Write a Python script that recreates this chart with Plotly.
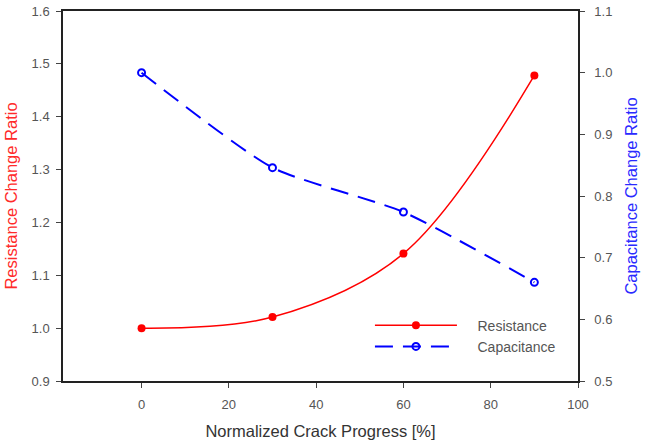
import plotly.graph_objects as go

crack = [0, 30, 60, 90]
resistance = [1.0, 1.021, 1.141, 1.478]
capacitance = [1.0, 0.846, 0.774, 0.66]

x_ticks = [0, 20, 40, 60, 80, 100]
pad = "\u00a0" * 4

fig = go.Figure()
fig.add_trace(go.Scatter(
    x=crack, y=resistance, name=pad + "Resistance", mode="lines+markers",
    line=dict(color="#ff0000", width=1.5, shape="spline", smoothing=1.0),
    marker=dict(color="#ff0000", size=8, symbol="circle"),
    yaxis="y"))
fig.add_trace(go.Scatter(
    x=crack, y=capacitance, name=pad + "Capacitance", mode="lines+markers",
    line=dict(color="#0000ff", width=2, dash="18px,10px", shape="spline", smoothing=0.6),
    marker=dict(color="#0000ff", size=7, symbol="circle-open", line=dict(width=2, color="#0000ff")),
    yaxis="y2"))

fam = "Liberation Sans, Arial, sans-serif"
axfont = dict(family=fam, size=13, color="#555")
fig.update_layout(
    width=645, height=440,
    margin=dict(l=63, r=67, t=11, b=59),
    paper_bgcolor="white", plot_bgcolor="white",
    font=dict(family=fam, size=13, color="#444"),
    showlegend=True,
    legend=dict(x=0.596, y=0.193, xanchor="left", yanchor="top", itemwidth=82,
                bgcolor="rgba(0,0,0,0)", font=dict(size=14, color="#555"),
                tracegroupgap=0),
    xaxis=dict(range=[-18, 100], tickvals=x_ticks, ticks="outside", ticklen=5,
               showline=True, linecolor="#222", linewidth=1.5, mirror=True,
               showgrid=False, zeroline=False, tickfont=axfont, ticklabelstandoff=6,
               automargin=False,
               title=dict(text="Normalized Crack Progress [%]", font=dict(size=16.5, color="#333"), standoff=14)),
    yaxis=dict(range=[0.9, 1.6], dtick=0.1, tickformat=".1f", ticks="outside", ticklen=5,
               showline=True, linecolor="#222", linewidth=1.5, automargin=False,
               showgrid=False, zeroline=False, tickfont=axfont, ticklabelstandoff=4,
               title=dict(text="Resistance Change Ratio", font=dict(size=16.5, color="#ff2a2a"), standoff=10)),
    yaxis2=dict(range=[0.5, 1.1], dtick=0.1, tickformat=".1f", ticks="outside", ticklen=5,
                overlaying="y", side="right", automargin=False,
                showline=True, linecolor="#222", linewidth=1.5,
                showgrid=False, zeroline=False, tickfont=axfont, ticklabelstandoff=7,
                title=dict(text="Capacitance Change Ratio", font=dict(size=16.5, color="#2a2aff"), standoff=14)),
)

fig.write_html("out.html")
